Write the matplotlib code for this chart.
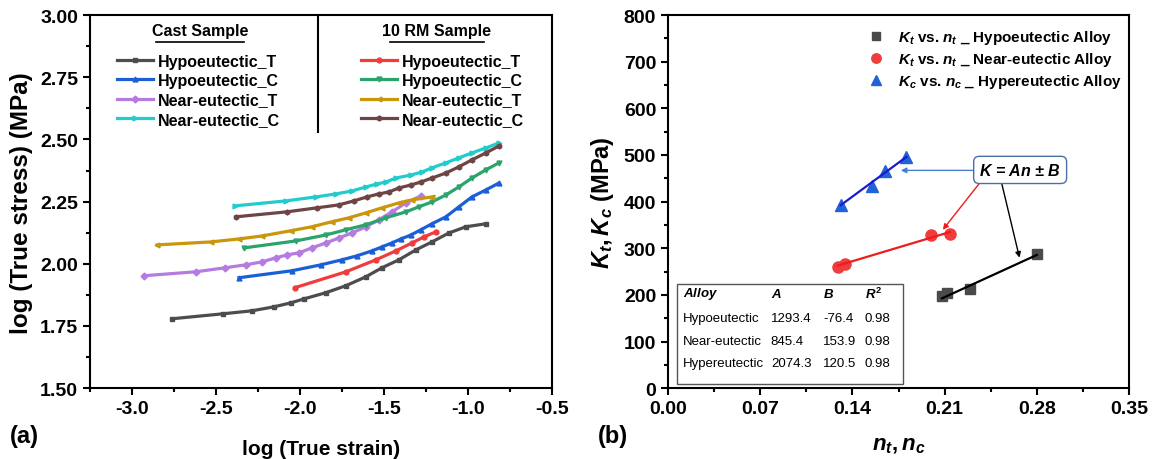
import matplotlib
matplotlib.use("Agg")
import matplotlib.pyplot as plt
from matplotlib.patches import Rectangle
from matplotlib.ticker import MultipleLocator, FormatStrFormatter

plt.rcParams["font.family"] = ["Liberation Sans", "DejaVu Sans"]
plt.rcParams["font.weight"] = "bold"
plt.rcParams["mathtext.fontset"] = "custom"
plt.rcParams["mathtext.rm"] = "Liberation Sans:bold"
plt.rcParams["mathtext.it"] = "Liberation Sans:italic:bold"
plt.rcParams["mathtext.bf"] = "Liberation Sans:bold"

# ---- panel (a): log true stress vs log true strain ----
hypo_t_cast_x = [-2.762, -2.458, -2.286, -2.155, -2.054, -1.976, -1.845, -1.726, -1.607,
                 -1.512, -1.411, -1.310, -1.214, -1.113, -1.012, -0.893]
hypo_t_cast_y = [1.779, 1.799, 1.811, 1.827, 1.843, 1.859, 1.884, 1.912, 1.948,
                 1.984, 2.016, 2.056, 2.088, 2.124, 2.149, 2.161]
hypo_c_cast_x = [-2.363, -2.048, -1.875, -1.750, -1.661, -1.571, -1.512, -1.452, -1.399,
                 -1.339, -1.280, -1.214, -1.131, -1.054, -0.976, -0.893, -0.815]
hypo_c_cast_y = [1.944, 1.972, 1.996, 2.016, 2.032, 2.052, 2.068, 2.084, 2.100,
                 2.116, 2.137, 2.161, 2.189, 2.229, 2.269, 2.297, 2.325]
near_t_cast_x = [-2.929, -2.619, -2.446, -2.321, -2.226, -2.143, -2.077, -2.006, -1.929,
                 -1.845, -1.768, -1.690, -1.607, -1.530, -1.452, -1.369, -1.280]
near_t_cast_y = [1.952, 1.968, 1.984, 1.996, 2.008, 2.024, 2.036, 2.044, 2.064,
                 2.084, 2.104, 2.124, 2.149, 2.177, 2.209, 2.245, 2.273]
near_c_cast_x = [-2.387, -2.083, -1.905, -1.786, -1.690, -1.607, -1.542, -1.488, -1.429,
                 -1.339, -1.274, -1.214, -1.131, -1.054, -0.976, -0.893, -0.815]
near_c_cast_y = [2.233, 2.253, 2.269, 2.281, 2.293, 2.309, 2.321, 2.329, 2.345,
                 2.357, 2.369, 2.386, 2.406, 2.426, 2.446, 2.466, 2.486]

hypo_t_rm_x = [-2.030, -1.726, -1.548, -1.429, -1.333, -1.262, -1.190]
hypo_t_rm_y = [1.904, 1.968, 2.016, 2.052, 2.084, 2.108, 2.129]
hypo_c_rm_x = [-2.333, -2.024, -1.845, -1.726, -1.607, -1.488, -1.369, -1.292, -1.214,
               -1.131, -1.054, -0.976, -0.893, -0.815]
hypo_c_rm_y = [2.064, 2.092, 2.116, 2.137, 2.157, 2.185, 2.209, 2.229, 2.249,
               2.277, 2.309, 2.345, 2.378, 2.406]
near_t_rm_x = [-2.851, -2.530, -2.363, -2.226, -2.054, -1.929, -1.810, -1.708, -1.607,
               -1.512, -1.411, -1.333, -1.214]
near_t_rm_y = [2.076, 2.088, 2.100, 2.112, 2.133, 2.149, 2.169, 2.185, 2.205,
               2.225, 2.245, 2.257, 2.269]
near_c_rm_x = [-2.381, -2.077, -1.899, -1.768, -1.679, -1.601, -1.530, -1.470, -1.411,
               -1.339, -1.280, -1.214, -1.131, -1.054, -0.976, -0.893, -0.815]
near_c_rm_y = [2.189, 2.209, 2.225, 2.237, 2.253, 2.269, 2.281, 2.289, 2.305,
               2.317, 2.329, 2.345, 2.365, 2.390, 2.418, 2.446, 2.474]

cast_series = [
    ("Hypoeutectic_T", hypo_t_cast_x, hypo_t_cast_y, "#4d4d4d", "s"),
    ("Hypoeutectic_C", hypo_c_cast_x, hypo_c_cast_y, "#1a5fd6", "^"),
    ("Near-eutectic_T", near_t_cast_x, near_t_cast_y, "#b47ce0", "D"),
    ("Near-eutectic_C", near_c_cast_x, near_c_cast_y, "#22cccc", ">"),
]
rm_series = [
    ("Hypoeutectic_T", hypo_t_rm_x, hypo_t_rm_y, "#f03c3c", "o"),
    ("Hypoeutectic_C", hypo_c_rm_x, hypo_c_rm_y, "#2ba36b", "v"),
    ("Near-eutectic_T", near_t_rm_x, near_t_rm_y, "#c9960c", "<"),
    ("Near-eutectic_C", near_c_rm_x, near_c_rm_y, "#6e4444", "h"),
]

# ---- panel (b): strength coefficient vs strain hardening exponent ----
hypo_n = [0.208, 0.212, 0.229, 0.280]
hypo_k = [197, 203, 213, 288]
near_n = [0.129, 0.134, 0.200, 0.214]
near_k = [260, 266, 328, 331]
hyper_n = [0.131, 0.155, 0.165, 0.181]
hyper_k = [393, 434, 465, 496]

table_alloys = ["Hypoeutectic", "Near-eutectic", "Hypereutectic"]
table_a = [1293.4, 845.4, 2074.3]
table_b = [-76.4, 153.9, 120.5]
table_r2 = [0.98, 0.98, 0.98]


def style_axes(ax):
    for sp in ax.spines.values():
        sp.set_linewidth(1.5)
    ax.tick_params(which="major", direction="out", length=5, width=1.5, labelsize=14)
    ax.tick_params(which="minor", direction="out", length=3, width=1.5)
    ax.tick_params(top=False, right=False)
    for lab in ax.get_xticklabels() + ax.get_yticklabels():
        lab.set_fontweight("bold")


fig = plt.figure(figsize=(11.52, 4.6), dpi=100)
ax1 = fig.add_axes([0.0781, 0.154, 0.401, 0.811])
ax2 = fig.add_axes([0.5799, 0.154, 0.4002, 0.811])

cast_handles = []
for label, xs, ys, color, mk in cast_series:
    (h,) = ax1.plot(xs, ys, color=color, lw=2.3, marker=mk, ms=3.5, label=label)
    cast_handles.append(h)
rm_handles = []
for label, xs, ys, color, mk in rm_series:
    (h,) = ax1.plot(xs, ys, color=color, lw=2.3, marker=mk, ms=3.5, label=label)
    rm_handles.append(h)

ax1.set_xlim(-3.25, -0.5)
ax1.set_ylim(1.5, 3.0)
ax1.xaxis.set_major_locator(MultipleLocator(0.5))
ax1.xaxis.set_minor_locator(MultipleLocator(0.25))
ax1.yaxis.set_major_locator(MultipleLocator(0.25))
ax1.yaxis.set_minor_locator(MultipleLocator(0.125))
ax1.xaxis.set_major_formatter(FormatStrFormatter("%.1f"))
ax1.yaxis.set_major_formatter(FormatStrFormatter("%.2f"))
style_axes(ax1)
ax1.set_xlabel("log (True strain)", fontsize=15, fontweight="bold", labelpad=16)
ax1.set_ylabel("log (True stress) (MPa)", fontsize=17.5, fontweight="bold", labelpad=5)

leg_kw = dict(frameon=False, prop={"weight": "bold", "size": 11.5}, handlelength=2.25,
              handletextpad=0.3, labelspacing=0.28, borderaxespad=0, borderpad=0)
leg1 = ax1.legend(handles=cast_handles, loc="upper left", bbox_to_anchor=(0.058, 0.897), **leg_kw)
ax1.add_artist(leg1)
ax1.legend(handles=rm_handles, loc="upper left", bbox_to_anchor=(0.587, 0.897), **leg_kw)
ax1.text(0.238, 0.958, "Cast Sample", transform=ax1.transAxes, ha="center", va="center",
         fontsize=11.5, fontweight="bold")
ax1.text(0.751, 0.958, "10 RM Sample", transform=ax1.transAxes, ha="center", va="center",
         fontsize=11.5, fontweight="bold")
ax1.plot([0.143, 0.333], [0.929, 0.929], transform=ax1.transAxes, color="black", lw=1.2)
ax1.plot([0.650, 0.853], [0.929, 0.929], transform=ax1.transAxes, color="black", lw=1.2)
ax1.plot([0.494, 0.494], [0.686, 1.0], transform=ax1.transAxes, color="black", lw=1.5)

# panel (b)
ax2.plot(hypo_n, hypo_k, linestyle="none", marker="s", ms=7, color="#4a4a4a",
         label=r"$K_t$ vs. $n_t$ _ Hypoeutectic Alloy")
ax2.plot(near_n, near_k, linestyle="none", marker="o", ms=8, color="#f03c3c",
         label=r"$K_t$ vs. $n_t$ _ Near-eutectic Alloy")
ax2.plot(hyper_n, hyper_k, linestyle="none", marker="^", ms=8, color="#1f63d6",
         label=r"$K_c$ vs. $n_c$ _ Hypereutectic Alloy")

fit_groups = [(hypo_n, 0, "black"), (near_n, 1, "#ee1c1c"), (hyper_n, 2, "#1a1ad0")]
for ns, i, color in fit_groups:
    n0, n1 = min(ns), max(ns)
    ax2.plot([n0, n1], [table_a[i] * n0 + table_b[i], table_a[i] * n1 + table_b[i]],
             color=color, lw=1.6)

ax2.set_xlim(0, 0.35)
ax2.set_ylim(0, 800)
ax2.xaxis.set_major_locator(MultipleLocator(0.07))
ax2.xaxis.set_minor_locator(MultipleLocator(0.035))
ax2.yaxis.set_major_locator(MultipleLocator(100))
ax2.yaxis.set_minor_locator(MultipleLocator(50))
ax2.xaxis.set_major_formatter(FormatStrFormatter("%.2f"))
style_axes(ax2)
ax2.set_xlabel(r"$n_t, n_c$", fontsize=16, labelpad=12)
ax2.set_ylabel(r"$K_t, K_c$ (MPa)", fontsize=17, fontweight="bold", labelpad=6)
ax2.legend(loc="upper right", bbox_to_anchor=(1.0, 0.985), frameon=False,
           prop={"weight": "bold", "size": 11}, handletextpad=0.4, labelspacing=0.25,
           borderaxespad=0.1, markerscale=0.85)

ax2.annotate("", xy=(0.1746, 467), xytext=(0.2354, 467),
             arrowprops=dict(arrowstyle="-|>", color="#4a7fd0", lw=1, mutation_scale=8))
ax2.annotate("", xy=(0.2073, 335), xytext=(0.2377, 444),
             arrowprops=dict(arrowstyle="-|>", color="#ee1c1c", lw=1, mutation_scale=8))
ax2.annotate("", xy=(0.2673, 274), xytext=(0.2529, 444),
             arrowprops=dict(arrowstyle="-|>", color="black", lw=1, mutation_scale=8))
ax2.text(0.2673, 468, r"$K$ = $An$ ± $B$", fontsize=11.5, ha="center", va="center",
         fontstyle="italic", fontweight="bold",
         bbox=dict(boxstyle="round,pad=0.35", fc="white", ec="#4a6fa5", lw=1))

ax2.add_patch(Rectangle((0.0195, 0.011), 0.49, 0.268, transform=ax2.transAxes,
                        fill=False, ec="#555555", lw=1))
col_x = [0.0325, 0.223, 0.336, 0.427]
row_y = [0.255, 0.188, 0.126, 0.067]
headers = [r"$Alloy$", r"$A$", r"$B$", r"$R^2$"]
for x, h in zip(col_x, headers):
    ax2.text(x, row_y[0], h, transform=ax2.transAxes, fontsize=9.5, va="center", ha="left")
for r in range(3):
    vals = [table_alloys[r], f"{table_a[r]:.1f}", f"{table_b[r]:.1f}", f"{table_r2[r]:.2f}"]
    for x, v in zip(col_x, vals):
        ax2.text(x, row_y[r + 1], v, transform=ax2.transAxes, fontsize=9.5,
                 fontweight="normal", va="center", ha="left")

fig.text(0.009, 0.052, "(a)", fontsize=17, fontweight="bold", va="center")
fig.text(0.519, 0.052, "(b)", fontsize=17, fontweight="bold", va="center")

fig.savefig("out.png", dpi=100)
